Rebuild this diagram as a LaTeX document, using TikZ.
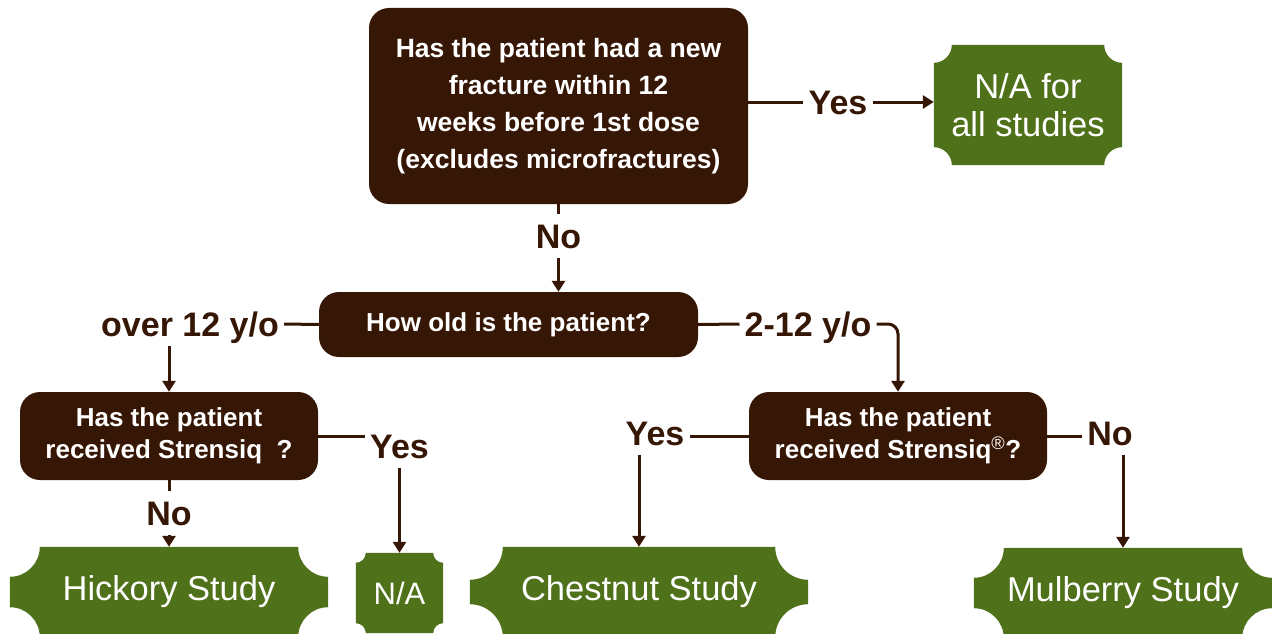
\documentclass[tikz,border=0pt]{standalone}
\usepackage{fontspec}
\setmainfont{Liberation Sans}
\usetikzlibrary{arrows.meta,calc}
\definecolor{brn}{HTML}{361605}
\definecolor{grn}{HTML}{4F7119}
\pgfdeclarelayer{bg}
\pgfsetlayers{bg,main}
\newcommand\tkfill[2]{%
  \fill[grn] ($(#1.north west)+(#2pt,0)$) -- ($(#1.north east)+(-#2pt,0)$)
    arc[start angle=180,end angle=270,radius=#2pt]
    -- ($(#1.south east)+(0,#2pt)$)
    arc[start angle=90,end angle=180,radius=#2pt]
    -- ($(#1.south west)+(#2pt,0)$)
    arc[start angle=0,end angle=90,radius=#2pt]
    -- ($(#1.north west)+(0,-#2pt)$)
    arc[start angle=270,end angle=360,radius=#2pt] -- cycle;}
\tikzset{
  qbox/.style={fill=brn, rounded corners=20pt, text=white, font=\fontsize{26}{32}\selectfont\bfseries, align=center, inner sep=0pt},
  gbox/.style={text=white, font=\fontsize{34.5}{38}\selectfont, align=center, inner sep=0pt},
  lbl/.style={text=brn, font=\fontsize{34}{40}\selectfont\bfseries, inner xsep=5pt, inner ysep=10pt, text height=24pt, text depth=0pt},
  conn/.style={draw=brn, line width=3pt},
  arr/.style={conn, -{Triangle[width=13pt,length=11pt]}},
}
\begin{document}
\begin{tikzpicture}[x=1pt,y=1pt]
\useasboundingbox (0,0) rectangle (1272,-634);
% decision boxes
\node[qbox, minimum width=379pt, minimum height=196pt, font=\fontsize{26.5}{37}\selectfont\bfseries] (q0) at (558.5,-106)
  {Has the patient had a new\\fracture within 12\\weeks before 1st dose\\(excludes microfractures)};
\node[qbox, minimum width=379pt, minimum height=65pt] (age) at (508.5,-324.5) {How old is the patient?};
\node[qbox, minimum width=298pt, minimum height=88pt] (q1) at (169,-436) {Has the patient\\received Strensiq\ \ ?};
\node[qbox, minimum width=298pt, minimum height=88pt] (q2) at (898,-436) {Has the patient\\received Strensiq\textsuperscript{\mdseries ®}?};
% outcome boxes
\node[gbox, minimum width=188pt, minimum height=120pt] (na1) at (1028,-105) {N/A for\\all studies};
\node[gbox, minimum width=318pt, minimum height=90pt] (hick) at (169,-592) {Hickory Study};
\node[gbox, minimum width=87pt, minimum height=80pt, font=\fontsize{31}{36}\selectfont] (na2) at (399.5,-593) {N/A};
\node[gbox, minimum width=338pt, minimum height=90pt] (chest) at (639,-592) {Chestnut Study};
\node[gbox, minimum width=298pt, minimum height=90pt] (mul) at (1123,-593) {Mulberry Study};
\begin{pgfonlayer}{bg}
  \clip (0,0) rectangle (1272,-634);
  \tkfill{na1}{18}
  \tkfill{hick}{30}
  \tkfill{na2}{10}
  \tkfill{chest}{33}
  \tkfill{mul}{30}
\end{pgfonlayer}
% labels
\node[lbl] (yes1) at (838,-102) {Yes};
\node[lbl] (no1) at (558.5,-236) {No};
\node[lbl] (over) at (190,-324) {over 12 y/o};
\node[lbl] (two) at (808,-324) {2-12 y/o};
\node[lbl] (yes2) at (399.5,-446) {Yes};
\node[lbl] (no2) at (169,-513) {No};
\node[lbl] (yes3) at (655,-433) {Yes};
\node[lbl] (no3) at (1110,-433) {No};
% connectors
\draw[conn] (q0.east |- yes1) -- (yes1.west);
\draw[arr] (yes1.east) -- (yes1.east -| na1.west);
\draw[conn] (q0.south) -- (no1.north);
\draw[arr] (no1.south) -- (no1.south |- age.north);
\draw[conn] (age.west) -- (over.east);
\draw[arr] (over.south -| q1.north) -- (q1.north);
\draw[conn] (age.east) -- (two.west);
\draw[arr, rounded corners=10pt] (two.east) -| (q2.north);
\draw[conn] (q1.east) -- (q1.east -| yes2.west);
\draw[arr] (yes2.south) -- (na2.north);
\draw[conn] (q1.south) -- (no2.north);
\draw[arr] (no2.south) -- (hick.north);
\draw[conn] (q2.west) -- (q2.west -| yes3.east);
\draw[arr] (yes3.south -| chest.north) -- (chest.north);
\draw[conn] (q2.east) -- (q2.east -| no3.west);
\draw[arr] (no3.south -| mul.north) -- (mul.north);
\end{tikzpicture}
\end{document}
